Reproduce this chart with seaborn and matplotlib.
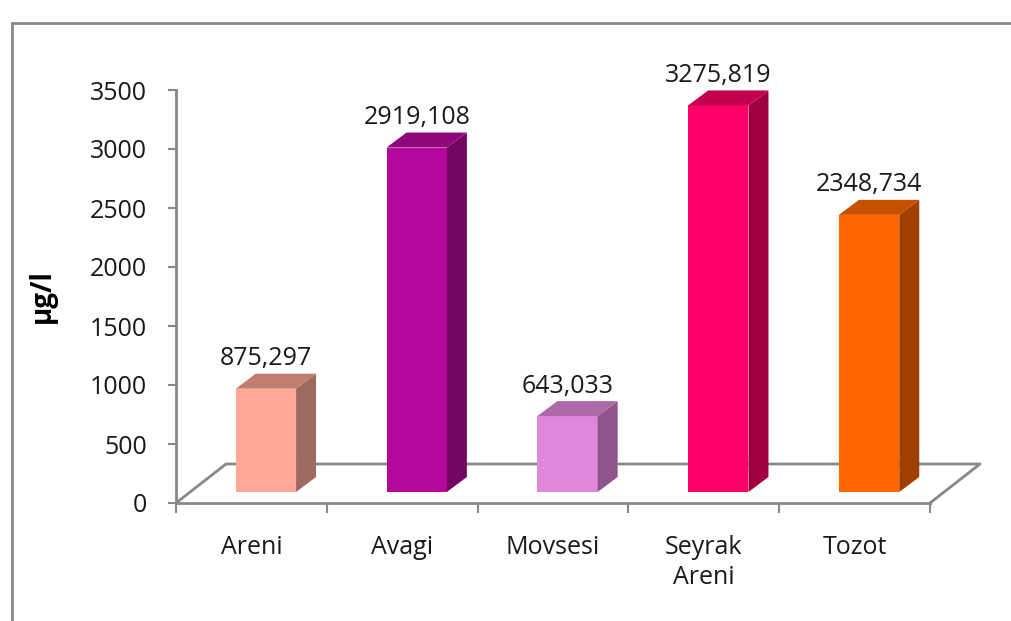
import numpy as np
import pandas as pd
import matplotlib
matplotlib.use('Agg')
import matplotlib.pyplot as plt
from matplotlib.patches import Polygon
from matplotlib.lines import Line2D
import seaborn as sns

sites = ['Areni', 'Avagi', 'Movsesi', 'Seyrak\nAreni', 'Tozot']
conc = [875.297, 2919.108, 643.033, 3275.819, 2348.734]
value_labels = ['875,297', '2919,108', '643,033', '3275,819', '2348,734']
front_cols = ['#FFA797', '#B5089B', '#E087DA', '#FF0066', '#FF6600']
top_cols = ['#C17E70', '#8F0779', '#AF68A8', '#C30050', '#C65000']
side_cols = ['#A0695F', '#740561', '#8F548B', '#A1003F', '#A04000']
yticks = [0, 500, 1000, 1500, 2000, 2500, 3000, 3500]

sns.set_style('white')
plt.rcParams['font.family'] = ['Open Sans', 'DejaVu Sans']
axis_grey = '#888888'
txt = '#1a1a1a'
fs = 18

W, H = 1011, 621
fig = plt.figure(figsize=(W / 100, H / 100), dpi=100)

# main axes (floor + axis lines)
l, r, b, t = 176, 930, 503, 90
ax = fig.add_axes([l / W, 1 - b / H, (r - l) / W, (b - t) / H])
ax.set_xlim(-0.5, 4.5)
ax.set_ylim(0, 3500)
px_x = (r - l) / 5.0      # px per category
px_y = (b - t) / 3500.0   # px per unit

for s in ['top', 'right']:
    ax.spines[s].set_visible(False)
for s in ['left', 'bottom']:
    ax.spines[s].set_color(axis_grey)
    ax.spines[s].set_linewidth(2)

ax.set_yticks(yticks)
ax.set_yticklabels([str(v) for v in yticks], fontsize=fs, color=txt)
ax.tick_params(axis='y', length=6, width=1.5, color=axis_grey, pad=15, left=True)
ax.set_xticks(np.arange(-0.5, 5, 1.0))
ax.set_xticklabels([])
ax.tick_params(axis='x', which='major', length=7, width=1.5, color=axis_grey, bottom=True)
ax.set_xticks(np.arange(5), minor=True)
ax.set_xticklabels(sites, minor=True, fontsize=fs, color=txt, linespacing=1.25)
ax.tick_params(axis='x', which='minor', length=0, pad=23)
ax.set_ylabel('μg/l', fontsize=20, fontweight='bold', color='black', labelpad=24)

# floor parallelogram
fdx, fdy = 50 / px_x, 39 / px_y
floor = [(-0.5, 0), (-0.5 + fdx, fdy), (4.5 + fdx, fdy), (4.5, 0)]
ax.add_line(Line2D([p[0] for p in floor], [p[1] for p in floor], color=axis_grey,
                   lw=2, clip_on=False))

# bars axes, shifted back into the depth of the floor
sx, sy = 14.5, 11
axb = fig.add_axes([(l + sx) / W, 1 - (b - sy) / H, (r - l) / W, (b - t) / H])
df = pd.DataFrame({'site': sites, 'conc': conc})
sns.barplot(data=df, x='site', y='conc', hue='site', palette=front_cols,
            saturation=1, width=0.4, legend=False, ax=axb, linewidth=0)
axb.set_xlim(-0.5, 4.5)
axb.set_ylim(0, 3500)
axb.axis('off')

ddx, ddy = 20 / px_x, 15 / px_y
for i, p in enumerate(axb.patches):
    x0, w, h = p.get_x(), p.get_width(), p.get_height()
    side = [(x0 + w, 0), (x0 + w + ddx, ddy), (x0 + w + ddx, h + ddy), (x0 + w, h)]
    top = [(x0, h), (x0 + ddx, h + ddy), (x0 + w + ddx, h + ddy), (x0 + w, h)]
    axb.add_patch(Polygon(side, closed=True, facecolor=side_cols[i], edgecolor='none', clip_on=False))
    axb.add_patch(Polygon(top, closed=True, facecolor=top_cols[i], edgecolor='none', clip_on=False))
    axb.text(x0 + w / 2, h + ddy + 20, value_labels[i], ha='center', va='bottom',
             fontsize=fs, color=txt, clip_on=False)

# outer chart frame (left and top edges)
fx, fy = 12 / W, 1 - 23 / H
fig.add_artist(Line2D([fx, fx], [-0.05, fy], color=axis_grey, lw=2, transform=fig.transFigure))
fig.add_artist(Line2D([fx, 1.05], [fy, fy], color=axis_grey, lw=2, transform=fig.transFigure))

fig.savefig('out.png', dpi=100)
